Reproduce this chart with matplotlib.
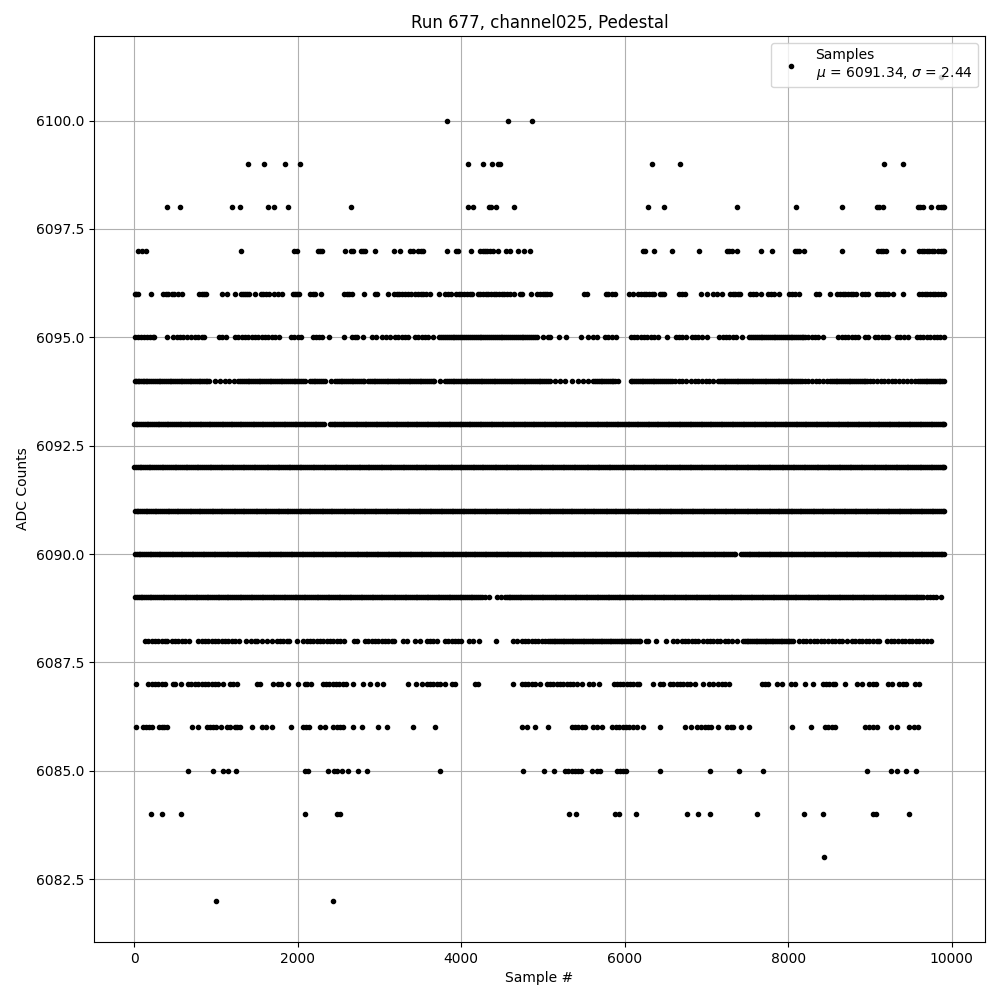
import matplotlib
matplotlib.use("Agg")
import matplotlib.pyplot as plt

s6101 = [9870]
s6100 = [3828, 4574, 4868]
s6099 = [1394, 1590, 1847, 2030, 4085, 4269, 4379, 4444, 4468, 6336, 6678, 9173, 9406]
s6098 = [404, 563, 1199, 1296, 1639, 1712, 1884, 2654, 4085, 4146, 4334, 4358, 4428, 4648,
         6287, 6483, 7375, 8097, 8660, 9080, 9104, 9153, 9589, 9614, 9646, 9744, 9834, 9862, 9891, 9908]
s6097 = [45, 94, 147, 1309, 1953, 1994, 2250, 2271, 2295, 2581, 2650, 2670, 2768, 2801, 2825, 2948,
         3180, 3253, 3372, 3404, 3474, 3502, 3527, 3828, 3934, 3963, 4122, 4228, 4261, 4289, 4318,
         4350, 4383, 4444, 4546, 4595, 4689, 4770, 4843,
         6221, 6246, 6356, 6580, 6911, 7245, 7277, 7310, 7367, 7669, 7803, 8085, 8109, 8134, 8187,
         8660, 9096, 9128, 9161, 9190, 9398, 9597, 9630, 9662, 9691, 9724, 9756, 9785, 9834, 9866, 9895, 9906]
s6096 = [4, 20, 45, 200, 355, 387, 416, 457, 485, 534, 587, 795, 824, 852, 877, 1068, 1137, 1227,
         1301, 1325, 1354, 1382, 1407, 1480, 1545, 1578, 1610, 1643, 1712, 1761, 1802, 1937, 1965,
         1994, 2018, 2149, 2181, 2210, 2287, 2564, 2597, 2630, 2666, 2813, 2944, 2972, 3107, 3176,
         3209, 3241, 3274, 3311, 3343, 3380, 3433, 3465, 3502, 3535, 3567, 3616, 3722, 3800, 3832,
         3869, 3934, 3967, 4000, 4032, 4065, 4106, 4130, 4199, 4232, 4265, 4297, 4330, 4362, 4395,
         4428, 4460, 4493, 4525, 4558, 4595, 4644, 4717, 4737, 4852, 4921, 4962, 4994, 5023, 5051,
         5084, 5504, 5541, 5765, 5797, 5838, 5883, 6054, 6095, 6164, 6197, 6230, 6262, 6295, 6327,
         6360, 6429, 6458, 6483, 6666, 6698, 6731, 6935, 7008, 7082, 7122, 7192, 7286, 7318, 7351,
         7384, 7412, 7534, 7571, 7604, 7669, 7754, 7787, 7824, 7885, 8011, 8044, 8081, 8134, 8337,
         8378, 8513, 8598, 8631, 8664, 8696, 8729, 8762, 8794, 8823, 8904, 8937, 8969, 9088, 9120,
         9153, 9186, 9218, 9283, 9398, 9601, 9634, 9667, 9699, 9732, 9764, 9797, 9830, 9862, 9899]
s6095 = [8, 41, 77, 114, 151, 188, 224, 245, 395, 477, 518, 559, 599, 640, 689, 742, 783, 824, 856,
         1040, 1068, 1121, 1231, 1272, 1313, 1354, 1394, 1435, 1476, 1517, 1557, 1598, 1639, 1680,
         1720, 1773, 1912, 1953, 2006, 2034, 2181, 2222, 2263, 2291, 2385, 2568, 2658, 2699, 2727,
         2801, 2911, 2956, 3025, 3074, 3127, 3188, 3229, 3270, 3311, 3351, 3433, 3474, 3514, 3555,
         3596, 3649, 3730, 3754, 3778, 3800, 3821, 3846, 3870, 3893, 3916, 3940, 3964, 3987, 4011, 4035,
         4058, 4081, 4104, 4129, 4153, 4176, 4199, 4223, 4247, 4270, 4292, 4316, 4340, 4363, 4387, 4410,
         4433, 4457, 4481, 4503, 4526, 4550, 4574, 4597, 4620, 4644, 4667, 4690, 4714, 4737, 4760, 4784,
         4808, 4830, 4853, 4877, 4901, 4921, 4994,
         5064, 5084, 5194, 5276, 5459, 5553, 5614, 5663, 5757, 5797, 5838, 5891, 6071, 6112, 6152,
         6193, 6234, 6275, 6316, 6356, 6405, 6519, 6621, 6662, 6703, 6743, 6817, 6857, 6898, 6939,
         7000, 7155, 7196, 7237, 7278, 7318, 7359, 7428, 7522, 7545, 7568, 7590, 7611, 7636, 7660, 7682,
         7704, 7728, 7752, 7775, 7797, 7820, 7843, 7866, 7889, 7912, 7935, 7957, 7979, 8003, 8027, 8049,
         8071, 8094, 8117, 8140, 8163, 8183, 8203, 8244, 8284, 8325, 8366, 8427, 8610,
         8651, 8692, 8733, 8774, 8814, 8855, 8937, 8977, 9059, 9100, 9141, 9182, 9222, 9324, 9365,
         9414, 9467, 9569, 9610, 9650, 9695, 9735, 9780, 9820, 9860, 9905]
s6094 = [4, 40, 80, 120, 160, 200, 232, 275, 320, 365, 408, 452, 498, 542, 588, 632, 676, 720, 765,
         808, 852, 895, 917, 987, 1048, 1109, 1162, 1223, 1272, 1318, 1362, 1408, 1452, 1498, 1542,
         1587, 1633, 1678, 1722, 1768, 1812, 1858, 1902, 1948, 1992, 2037, 2082, 2149, 2195, 2238,
         2285, 2332, 2401, 2454, 2500, 2545, 2591, 2635, 2680, 2725, 2770, 2815, 2862, 2905, 2950,
         2995, 3040, 3085, 3130, 3175, 3220, 3265, 3310, 3355, 3400, 3445, 3490, 3535, 3580, 3625,
         3670, 3738, 3800, 3846, 3893, 3937, 3984, 4028, 4075, 4121, 4166, 4213, 4258, 4304, 4350,
         4395, 4442, 4487, 4533, 4580, 4624, 4671, 4716, 4762, 4809, 4853, 4900, 4946, 4991, 5038,
         5084, 5145, 5206, 5267, 5349, 5431, 5492, 5553, 5614, 5660, 5705, 5750, 5795, 5840, 5880,
         5920, 6071, 6115, 6160, 6205, 6250, 6295, 6340, 6385, 6430, 6475, 6525, 6572, 6613, 6658,
         6705, 6750, 6804, 6857, 6900, 6945, 6990, 7035, 7080, 7143, 7163, 7208, 7254, 7299, 7345,
         7390, 7436, 7481, 7527, 7572, 7618, 7663, 7709, 7754, 7800, 7845, 7891, 7936, 7982, 8027,
         8073, 8118, 8164, 8203, 8244, 8290, 8335, 8380, 8425, 8468, 8510, 8556, 8601, 8647, 8692,
         8738, 8783, 8829, 8874, 8920, 8965, 8998, 9040, 9085, 9130, 9175, 9222, 9263, 9308, 9350,
         9400, 9450, 9500, 9548, 9589, 9635, 9680, 9725, 9770, 9815, 9860, 9905]
s6094b = [22, 62, 101, 142, 181, 254, 297, 343, 386, 431, 476, 520, 566, 611, 655, 699, 744, 787, 831,
          874, 1294, 1341, 1386, 1431, 1476, 1520, 1565, 1611, 1656, 1700, 1745, 1791, 1836, 1880, 1926,
          1970, 2015, 2060, 2172, 2216, 2262, 2309, 2478, 2523, 2568, 2613, 2658, 2703, 2748, 2793, 2884,
          2928, 2973, 3018, 3063, 3108, 3153, 3198, 3243, 3288, 3333, 3378, 3423, 3468, 3513, 3558, 3603,
          3648, 3823, 3870, 3915, 3960, 4006, 4052, 4098, 4143, 4190, 4236, 4281, 4327, 4372, 4418, 4465,
          4510, 4556, 4602, 4648, 4694, 4739, 4785, 4831, 4877, 4923, 4968, 5015, 5061, 5637, 5682, 5727,
          5772, 5817, 5860, 6093, 6138, 6182, 6228, 6273, 6318, 6363, 6408, 6452, 6500, 6548, 7185, 7231,
          7276, 7322, 7368, 7413, 7458, 7504, 7550, 7595, 7640, 7686, 7732, 7777, 7822, 7868, 7914, 7959,
          8005, 8050, 8096, 8141, 8533, 8578, 8624, 8670, 8715, 8760, 8806, 8852, 8897, 8942, 9612, 9657,
          9702, 9748, 9792, 9838, 9882]
s6093 = [0, 38, 84, 129, 171, 218, 262, 305, 352, 396, 441, 487, 530, 576, 620, 663, 709, 754, 798,
         843, 889, 932, 978, 1021, 1067, 1112, 1155, 1201, 1246, 1288, 1335, 1380, 1423, 1469, 1514,
         1557, 1603, 1648, 1692, 1737, 1783, 1826, 1872, 1917, 1960, 2006, 2051, 2094, 2140, 2185,
         2228, 2274, 2316, 2392, 2437, 2482, 2526, 2571, 2617, 2660, 2706, 2751, 2794, 2840, 2885,
         2928, 2974, 3019, 3062, 3108, 3153, 3196, 3242, 3287, 3330, 3376, 3421, 3464, 3510, 3555,
         3598, 3644, 3689, 3732, 3778, 3823, 3866, 3912, 3957, 4000, 4046, 4091, 4134, 4180, 4225,
         4268, 4314, 4359, 4402, 4448, 4493, 4536, 4582, 4627, 4670, 4716, 4761, 4804, 4850, 4895,
         4938, 4984, 5029, 5072, 5118, 5163, 5206, 5252, 5297, 5340, 5386, 5431, 5474, 5520, 5565,
         5608, 5654, 5699, 5742, 5788, 5833, 5876, 5922, 5967, 6010, 6056, 6101, 6144, 6190, 6235,
         6278, 6324, 6369, 6412, 6458, 6503, 6546, 6592, 6637, 6680, 6726, 6771, 6814, 6860, 6905,
         6948, 6994, 7039, 7082, 7128, 7173, 7216, 7262, 7307, 7350, 7396, 7441, 7484, 7530, 7575,
         7618, 7664, 7709, 7752, 7798, 7843, 7886, 7932, 7977, 8020, 8066, 8111, 8154, 8200, 8245,
         8288, 8334, 8379, 8422, 8468, 8513, 8556, 8602, 8647, 8690, 8736, 8781, 8824, 8870, 8915,
         8958, 9004, 9049, 9092, 9138, 9183, 9226, 9272, 9317, 9360, 9406, 9451, 9494, 9540, 9585,
         9628, 9674, 9719, 9762, 9808, 9853, 9896, 9908]
s6093b = [19, 61, 106, 150, 195, 240, 284, 328, 374, 418, 464, 508, 553, 598, 642, 686, 731, 776, 820,
          866, 910, 955, 1000, 1044, 1089, 1133, 1178, 1223, 1267, 1311, 1357, 1401, 1446, 1491, 1535,
          1580, 1625, 1670, 1714, 1760, 1804, 1849, 1894, 1938, 1983, 2028, 2072, 2117, 2162, 2206,
          2251, 2295, 2414, 2459, 2504, 2548, 2594, 2638, 2683, 2728, 2772, 2817, 2862, 2906, 2951,
          2996, 3040, 3085, 3130, 3174, 3219, 3264, 3308, 3353, 3398, 3442, 3487, 3532, 3576, 3621,
          3666, 3710, 3755, 3800, 3844, 3889, 3934, 3978, 4023, 4068, 4112, 4157, 4202, 4246, 4291,
          4336, 4380, 4425, 4470, 4514, 4559, 4604, 4648, 4693, 4738, 4782, 4827, 4872, 4916, 4961,
          5006, 5050, 5095, 5140, 5184, 5229, 5274, 5318, 5363, 5408, 5452, 5497, 5542, 5586, 5631,
          5676, 5720, 5765, 5810, 5854, 5899, 5944, 5988, 6033, 6078, 6122, 6167, 6212, 6256, 6301,
          6346, 6390, 6435, 6480, 6524, 6569, 6614, 6658, 6703, 6748, 6792, 6837, 6882, 6926, 6971,
          7016, 7060, 7105, 7150, 7194, 7239, 7284, 7328, 7373, 7418, 7462, 7507, 7552, 7596, 7641,
          7686, 7730, 7775, 7820, 7864, 7909, 7954, 7998, 8043, 8088, 8132, 8177, 8222, 8266, 8311,
          8356, 8400, 8445, 8490, 8534, 8579, 8624, 8668, 8713, 8758, 8802, 8847, 8892, 8936, 8981,
          9026, 9070, 9115, 9160, 9204, 9249, 9294, 9338, 9383, 9428, 9472, 9517, 9562, 9606, 9651,
          9696, 9740, 9785, 9830, 9875]
s6092 = [0, 44, 86, 133, 176, 221, 268, 311, 357, 402, 446, 493, 537, 582, 627, 671, 718, 762, 807,
         852, 896, 943, 987, 1032, 1077, 1121, 1168, 1212, 1257, 1302, 1346, 1393, 1437, 1482, 1527,
         1571, 1618, 1662, 1707, 1752, 1796, 1843, 1887, 1932, 1977, 2021, 2068, 2112, 2157, 2202,
         2246, 2293, 2337, 2382, 2427, 2471, 2518, 2562, 2607, 2652, 2696, 2743, 2787, 2832, 2877,
         2921, 2968, 3012, 3057, 3102, 3146, 3193, 3237, 3282, 3327, 3371, 3418, 3462, 3507, 3552,
         3596, 3643, 3687, 3732, 3777, 3821, 3868, 3912, 3957, 4002, 4046, 4093, 4137, 4182, 4227,
         4271, 4318, 4362, 4407, 4452, 4496, 4543, 4587, 4632, 4677, 4721, 4768, 4812, 4857, 4902,
         4946, 4993, 5037, 5082, 5127, 5171, 5218, 5262, 5307, 5352, 5396, 5443, 5487, 5532, 5577,
         5621, 5668, 5712, 5757, 5802, 5846, 5893, 5937, 5982, 6027, 6071, 6118, 6162, 6207, 6252,
         6296, 6343, 6387, 6432, 6477, 6521, 6568, 6612, 6657, 6702, 6746, 6793, 6837, 6882, 6927,
         6971, 7018, 7062, 7107, 7152, 7196, 7243, 7287, 7332, 7377, 7421, 7468, 7512, 7557, 7602,
         7646, 7693, 7737, 7782, 7827, 7871, 7918, 7962, 8007, 8052, 8096, 8143, 8187, 8232, 8277,
         8321, 8368, 8412, 8457, 8502, 8546, 8593, 8637, 8682, 8727, 8771, 8818, 8862, 8907, 8952,
         8996, 9043, 9087, 9132, 9177, 9221, 9268, 9312, 9357, 9402, 9446, 9493, 9537, 9582, 9627,
         9671, 9718, 9762, 9807, 9852, 9896, 9908]
s6092b = [23, 65, 109, 155, 198, 245, 290, 334, 380, 424, 470, 515, 559, 605, 649, 695, 740, 785, 830,
          874, 920, 965, 1010, 1055, 1099, 1145, 1190, 1235, 1280, 1324, 1370, 1415, 1460, 1505, 1549,
          1595, 1640, 1685, 1730, 1774, 1820, 1865, 1910, 1955, 1999, 2045, 2090, 2135, 2180, 2224,
          2270, 2315, 2360, 2405, 2449, 2495, 2540, 2585, 2630, 2674, 2720, 2765, 2810, 2855, 2899,
          2945, 2990, 3035, 3080, 3124, 3170, 3215, 3260, 3305, 3349, 3395, 3440, 3485, 3530, 3574,
          3620, 3665, 3710, 3755, 3799, 3845, 3890, 3935, 3980, 4024, 4070, 4115, 4160, 4205, 4249,
          4295, 4340, 4385, 4430, 4474, 4520, 4565, 4610, 4655, 4699, 4745, 4790, 4835, 4880, 4924,
          4970, 5015, 5060, 5105, 5149, 5195, 5240, 5285, 5330, 5374, 5420, 5465, 5510, 5555, 5599,
          5645, 5690, 5735, 5780, 5824, 5870, 5915, 5960, 6005, 6049, 6095, 6140, 6185, 6230, 6274,
          6320, 6365, 6410, 6455, 6499, 6545, 6590, 6635, 6680, 6724, 6770, 6815, 6860, 6905, 6949,
          6995, 7040, 7085, 7130, 7174, 7220, 7265, 7310, 7355, 7399, 7445, 7490, 7535, 7580, 7624,
          7670, 7715, 7760, 7805, 7849, 7895, 7940, 7985, 8030, 8074, 8120, 8165, 8210, 8255, 8299,
          8345, 8390, 8435, 8480, 8524, 8570, 8615, 8660, 8705, 8749, 8795, 8840, 8885, 8930, 8974,
          9020, 9065, 9110, 9155, 9199, 9245, 9290, 9335, 9380, 9424, 9470, 9515, 9560, 9605, 9649,
          9695, 9740, 9785, 9830, 9874]
s6091 = [6, 47, 91, 138, 182, 226, 271, 316, 360, 407, 451, 495, 540, 585, 629, 676, 720, 764, 809,
         854, 898, 945, 989, 1033, 1078, 1123, 1167, 1214, 1258, 1302, 1347, 1392, 1436, 1483, 1527,
         1571, 1616, 1661, 1705, 1752, 1796, 1840, 1885, 1930, 1974, 2021, 2065, 2109, 2154, 2199,
         2243, 2290, 2334, 2378, 2423, 2468, 2512, 2559, 2603, 2647, 2692, 2737, 2781, 2828, 2872,
         2916, 2961, 3006, 3050, 3097, 3141, 3185, 3230, 3275, 3319, 3366, 3410, 3454, 3499, 3544,
         3588, 3635, 3679, 3723, 3768, 3813, 3857, 3904, 3948, 3992, 4037, 4082, 4126, 4173, 4217,
         4261, 4306, 4351, 4395, 4442, 4486, 4530, 4575, 4620, 4664, 4711, 4755, 4799, 4844, 4889,
         4933, 4980, 5024, 5068, 5113, 5158, 5202, 5249, 5293, 5337, 5382, 5427, 5471, 5518, 5562,
         5606, 5651, 5696, 5740, 5787, 5831, 5875, 5920, 5965, 6009, 6056, 6100, 6144, 6189, 6234,
         6278, 6325, 6369, 6413, 6458, 6503, 6547, 6594, 6638, 6682, 6727, 6772, 6816, 6863, 6907,
         6951, 6996, 7041, 7085, 7132, 7176, 7220, 7265, 7310, 7354, 7401, 7445, 7489, 7534, 7579,
         7623, 7670, 7714, 7758, 7803, 7848, 7892, 7939, 7983, 8027, 8072, 8117, 8161, 8208, 8252,
         8296, 8341, 8386, 8430, 8477, 8521, 8565, 8610, 8655, 8699, 8746, 8790, 8834, 8879, 8924,
         8968, 9015, 9059, 9103, 9148, 9193, 9237, 9284, 9328, 9372, 9417, 9462, 9506, 9553, 9597,
         9641, 9686, 9731, 9775, 9822, 9866, 9908]
s6091b = [27, 69, 114, 160, 204, 249, 294, 338, 384, 429, 473, 518, 563, 607, 653, 698, 742, 787, 832,
          876, 922, 967, 1011, 1056, 1101, 1145, 1191, 1236, 1280, 1325, 1370, 1414, 1460, 1505, 1549,
          1594, 1639, 1683, 1729, 1774, 1818, 1863, 1908, 1952, 1998, 2043, 2087, 2132, 2177, 2221,
          2267, 2312, 2356, 2401, 2446, 2490, 2536, 2581, 2625, 2670, 2715, 2759, 2805, 2850, 2894,
          2939, 2984, 3028, 3074, 3119, 3163, 3208, 3253, 3297, 3343, 3388, 3432, 3477, 3522, 3566,
          3612, 3657, 3701, 3746, 3791, 3835, 3881, 3926, 3970, 4015, 4060, 4104, 4150, 4195, 4239,
          4284, 4329, 4373, 4419, 4464, 4508, 4553, 4598, 4642, 4688, 4733, 4777, 4822, 4867, 4911,
          4957, 5002, 5046, 5091, 5136, 5180, 5226, 5271, 5315, 5360, 5405, 5449, 5495, 5540, 5584,
          5629, 5674, 5718, 5764, 5809, 5853, 5898, 5943, 5987, 6033, 6078, 6122, 6167, 6212, 6256,
          6302, 6347, 6391, 6436, 6481, 6525, 6571, 6616, 6660, 6705, 6750, 6794, 6840, 6885, 6929,
          6974, 7019, 7063, 7109, 7154, 7198, 7243, 7288, 7332, 7378, 7423, 7467, 7512, 7557, 7601,
          7647, 7692, 7736, 7781, 7826, 7870, 7916, 7961, 8005, 8050, 8095, 8139, 8185, 8230, 8274,
          8319, 8364, 8408, 8454, 8499, 8543, 8588, 8633, 8677, 8723, 8768, 8812, 8857, 8902, 8946,
          8992, 9037, 9081, 9126, 9171, 9215, 9261, 9306, 9350, 9395, 9440, 9484, 9530, 9575, 9619,
          9664, 9709, 9753, 9799, 9844, 9888]
s6090 = [11, 52, 97, 141, 186, 232, 275, 320, 365, 410, 456, 499, 544, 589, 634, 680, 723, 768,
         813, 858, 904, 947, 992, 1037, 1082, 1128, 1171, 1216, 1261, 1306, 1352, 1395, 1440, 1485,
         1530, 1576, 1619, 1664, 1709, 1754, 1800, 1843, 1888, 1933, 1978, 2024, 2067, 2112, 2157,
         2202, 2248, 2291, 2336, 2381, 2426, 2472, 2515, 2560, 2605, 2650, 2696, 2739, 2784, 2829,
         2874, 2920, 2963, 3008, 3053, 3098, 3144, 3187, 3232, 3277, 3322, 3368, 3411, 3456, 3501,
         3546, 3592, 3635, 3680, 3725, 3770, 3816, 3859, 3904, 3949, 3994, 4040, 4083, 4128, 4173,
         4218, 4264, 4307, 4352, 4397, 4442, 4488, 4531, 4576, 4621, 4666, 4712, 4755, 4800, 4845,
         4890, 4936, 4979, 5024, 5069, 5114, 5160, 5203, 5248, 5293, 5338, 5384, 5427, 5472, 5517,
         5562, 5608, 5651, 5696, 5741, 5786, 5832, 5875, 5920, 5965, 6010, 6056, 6099, 6144, 6189,
         6234, 6280, 6323, 6368, 6413, 6458, 6504, 6547, 6592, 6637, 6682, 6728, 6771, 6816, 6861,
         6906, 6952, 6995, 7040, 7085, 7130, 7176, 7219, 7264, 7309, 7352, 7424, 7468, 7514, 7557,
         7602, 7647, 7692, 7738, 7781, 7826, 7871, 7916, 7962, 8005, 8050, 8095, 8140, 8186, 8229,
         8274, 8319, 8364, 8410, 8453, 8498, 8543, 8588, 8634, 8677, 8722, 8767, 8812, 8858, 8901,
         8946, 8991, 9036, 9082, 9125, 9170, 9215, 9260, 9306, 9349, 9394, 9439, 9484, 9530, 9573,
         9618, 9663, 9708, 9754, 9797, 9842, 9904]
s6090b = [31, 74, 119, 163, 209, 253, 298, 342, 388, 433, 477, 522, 567, 611, 657, 702, 746, 791, 836,
          881, 926, 970, 1015, 1060, 1105, 1150, 1194, 1239, 1284, 1329, 1374, 1418, 1463, 1508, 1553,
          1598, 1642, 1687, 1732, 1777, 1822, 1866, 1911, 1956, 2001, 2046, 2090, 2135, 2180, 2225,
          2270, 2314, 2359, 2404, 2449, 2494, 2538, 2583, 2628, 2673, 2718, 2762, 2807, 2852, 2897,
          2942, 2986, 3031, 3076, 3121, 3166, 3210, 3255, 3300, 3345, 3390, 3434, 3479, 3524, 3569,
          3614, 3658, 3703, 3748, 3793, 3838, 3882, 3927, 3972, 4017, 4062, 4106, 4151, 4196, 4241,
          4286, 4330, 4375, 4420, 4465, 4510, 4554, 4599, 4644, 4689, 4734, 4778, 4823, 4868, 4913,
          4958, 5002, 5047, 5092, 5137, 5182, 5226, 5271, 5316, 5361, 5406, 5450, 5495, 5540, 5585,
          5630, 5674, 5719, 5764, 5809, 5854, 5898, 5943, 5988, 6033, 6078, 6122, 6167, 6212, 6257,
          6302, 6346, 6391, 6436, 6481, 6526, 6570, 6615, 6660, 6705, 6750, 6794, 6839, 6884, 6929,
          6974, 7018, 7063, 7108, 7153, 7198, 7242, 7287, 7332, 7446, 7491, 7536, 7580, 7625, 7670,
          7715, 7760, 7804, 7849, 7894, 7939, 7984, 8028, 8073, 8118, 8163, 8208, 8252, 8297, 8342,
          8387, 8432, 8476, 8521, 8566, 8611, 8656, 8700, 8745, 8790, 8835, 8880, 8924, 8969, 9014,
          9059, 9104, 9148, 9193, 9238, 9283, 9328, 9372, 9417, 9462, 9507, 9552, 9596, 9641, 9686,
          9731, 9776, 9820, 9864, 9886]
s6089 = [8, 53, 98, 144, 187, 232, 279, 323, 367, 412, 458, 501, 546, 593, 637, 681, 726, 772, 815,
         860, 907, 951, 995, 1040, 1086, 1129, 1174, 1221, 1265, 1309, 1354, 1400, 1443, 1488, 1535,
         1579, 1623, 1668, 1714, 1757, 1802, 1849, 1893, 1937, 1982, 2028, 2071, 2116, 2163, 2207,
         2251, 2296, 2342, 2385, 2430, 2477, 2521, 2565, 2610, 2656, 2699, 2744, 2791, 2835, 2879,
         2924, 2970, 3013, 3058, 3105, 3149, 3193, 3238, 3284, 3327, 3372, 3419, 3463, 3507, 3552,
         3598, 3641, 3686, 3733, 3777, 3821, 3866, 3912, 3955, 4000, 4047, 4091, 4135, 4180, 4226,
         4248, 4289, 4338, 4432, 4481, 4534, 4578, 4623, 4669, 4712, 4757, 4804, 4848, 4892, 4937,
         4983, 5026, 5071, 5118, 5162, 5206, 5251, 5297, 5340, 5385, 5432, 5476, 5520, 5565, 5611,
         5654, 5699, 5746, 5790, 5834, 5879, 5925, 5968, 6013, 6060, 6104, 6148, 6193, 6239, 6282,
         6327, 6374, 6418, 6462, 6507, 6553, 6596, 6641, 6688, 6732, 6776, 6821, 6867, 6910, 6955,
         7002, 7046, 7090, 7135, 7181, 7224, 7269, 7316, 7360, 7404, 7449, 7495, 7538, 7583, 7630,
         7674, 7718, 7763, 7809, 7852, 7897, 7944, 7988, 8032, 8077, 8123, 8166, 8211, 8258, 8302,
         8346, 8391, 8437, 8480, 8525, 8572, 8616, 8660, 8705, 8751, 8794, 8839, 8886, 8930, 8974,
         9019, 9065, 9108, 9153, 9200, 9244, 9288, 9333, 9379, 9422, 9467, 9514, 9558, 9602, 9651,
         9691, 9732, 9772, 9811, 9866]
s6089b = [30, 76, 121, 166, 210, 255, 301, 345, 390, 435, 480, 524, 570, 615, 659, 704, 749, 794, 838,
          884, 929, 973, 1018, 1063, 1108, 1152, 1198, 1243, 1287, 1332, 1377, 1422, 1466, 1512, 1557,
          1601, 1646, 1691, 1736, 1780, 1826, 1871, 1915, 1960, 2005, 2050, 2094, 2140, 2185, 2229,
          2274, 2319, 2364, 2408, 2454, 2499, 2543, 2588, 2633, 2678, 2722, 2768, 2813, 2857, 2902,
          2947, 2992, 3036, 3082, 3127, 3171, 3216, 3261, 3306, 3350, 3396, 3441, 3485, 3530, 3575,
          3620, 3664, 3710, 3755, 3799, 3844, 3889, 3934, 3978, 4024, 4069, 4113, 4158, 4203, 4556,
          4601, 4646, 4691, 4735, 4781, 4826, 4870, 4915, 4960, 5005, 5049, 5095, 5140, 5184, 5229,
          5274, 5319, 5363, 5409, 5454, 5498, 5543, 5588, 5633, 5677, 5723, 5768, 5812, 5857, 5902,
          5947, 5991, 6037, 6082, 6126, 6171, 6216, 6261, 6305, 6351, 6396, 6440, 6485, 6530, 6575,
          6619, 6665, 6710, 6754, 6799, 6844, 6889, 6933, 6979, 7024, 7068, 7113, 7158, 7203, 7247,
          7293, 7338, 7382, 7427, 7472, 7517, 7561, 7607, 7652, 7696, 7741, 7786, 7831, 7875, 7921,
          7966, 8010, 8055, 8100, 8145, 8189, 8235, 8280, 8324, 8369, 8414, 8459, 8503, 8549, 8594,
          8638, 8683, 8728, 8773, 8817, 8863, 8908, 8952, 8997, 9042, 9087, 9131, 9177, 9222, 9266,
          9311, 9356, 9401, 9445, 9491, 9536, 9580, 9626]
s6088 = [130, 171, 212, 253, 294, 334, 375, 404, 457, 497, 538, 579, 620, 673, 783, 824, 864, 905,
         946, 987, 1027, 1068, 1109, 1150, 1190, 1231, 1284, 1366, 1423, 1476, 1504, 1557, 1619,
         1688, 1741, 1782, 1822, 1863, 1896, 1994, 2067, 2108, 2149, 2189, 2230, 2271, 2312, 2352,
         2393, 2434, 2475, 2516, 2564, 2691, 2727, 2821, 2862, 2903, 2944, 2984, 3025, 3066, 3107,
         3147, 3176, 3290, 3339, 3433, 3494, 3575, 3616, 3657, 3706, 3800, 3841, 3881, 3922, 3963,
         3996, 4093, 4146, 4220, 4428, 4627, 4676, 4737, 4778, 4819, 4860, 4900, 4941, 4982, 5023,
         5064, 5086, 5108, 5130, 5151, 5173, 5196, 5218, 5240, 5262, 5283, 5306, 5329, 5350, 5372, 5394,
         5417, 5438, 5460, 5483, 5506, 5527, 5549, 5571, 5593, 5615, 5638, 5660, 5682, 5704, 5727, 5748,
         5770, 5792, 5815, 5837, 5859, 5881, 5903, 5925, 5948, 5970, 5992, 6013, 6035, 6058, 6081, 6102,
         6124, 6146, 6168, 6182, 6254, 6287, 6385,
         6507, 6593, 6633, 6694, 6735, 6776, 6817, 6857, 6898, 6959, 7000, 7041, 7082, 7122, 7163,
         7224, 7265, 7306, 7367, 7449, 7470, 7490, 7512, 7534, 7555, 7577, 7599, 7621, 7642, 7664, 7687,
         7709, 7730, 7752, 7774, 7796, 7818, 7839, 7862, 7884, 7905, 7927, 7949, 7971, 7992, 8014, 8037,
         8060, 8134, 8178, 8221, 8265, 8309, 8354, 8398, 8441, 8485, 8529, 8573,
         8617, 8660, 8712, 8773, 8817, 8861, 8904, 8948, 8992, 9036, 9080, 9112, 9210, 9254, 9297,
         9341, 9385, 9429, 9473, 9516, 9560, 9604, 9648, 9692, 9740]
s6087 = [16, 171, 212, 253, 294, 334, 375, 469, 497, 571, 660, 689, 742, 783, 824, 864, 905, 946,
         987, 1027, 1080, 1170, 1211, 1252, 1504, 1537, 1692, 1761, 1794, 1875, 1998, 2087, 2116,
         2157, 2303, 2344, 2385, 2426, 2466, 2507, 2548, 2589, 2670, 2793, 2878, 2972, 3037, 3347,
         3445, 3522, 3575, 3616, 3657, 3698, 3738, 3796, 3881, 3922, 4167, 4208, 4636, 4737, 4778,
         4819, 4860, 4900, 4962, 5043, 5084, 5124, 5165, 5206, 5247, 5288, 5329, 5369, 5418, 5471,
         5565, 5614, 5688, 5867, 5899, 5940, 5981, 6022, 6063, 6104, 6144, 6177, 6348, 6430, 6470,
         6552, 6593, 6633, 6674, 6715, 6756, 6796, 6857, 6959, 7029, 7082, 7135, 7184, 7229, 7273,
         7673, 7714, 7755, 7865, 7918, 8028, 8081, 8203, 8305, 8419, 8460, 8501, 8541, 8574, 8688,
         8835, 8896, 8990, 9031, 9072, 9222, 9263, 9349, 9406, 9438, 9548, 9601]
s6086 = [24, 110, 143, 175, 212, 302, 334, 367, 404, 709, 783, 893, 925, 958, 999, 1060, 1129, 1170,
         1231, 1260, 1292, 1443, 1566, 1606, 1680, 1912, 2067, 2100, 2140, 2271, 2332, 2434, 2475,
         2516, 2556, 2670, 2781, 2984, 3094, 3412, 3682, 4746, 4799, 4905, 5060, 5349, 5390, 5431,
         5471, 5512, 5614, 5654, 5724, 5846, 5891, 5932, 5973, 6014, 6055, 6096, 6144, 6226, 6430,
         6739, 6805, 6886, 6927, 6980, 7020, 7053, 7143, 7245, 7294, 7318, 7424, 7522, 8048, 8280,
         8448, 8488, 8529, 8570, 8937, 8990, 9039, 9088, 9255, 9324, 9479, 9536, 9589]
s6085 = [660, 958, 1080, 1150, 1248, 2087, 2128, 2373, 2442, 2475, 2536, 2617, 2740, 2850, 3743,
         4758, 5015, 5133, 5267, 5308, 5349, 5390, 5431, 5459, 5602, 5655, 5696, 5906, 5939, 5980,
         6012, 6434, 7045, 7400, 7693, 8966, 9255, 9324, 9442, 9556]
s6084 = [208, 342, 575, 2092, 2475, 2516, 5320, 5398, 5879, 5924, 6140, 6764, 6898, 7045, 7620, 8194,
         8427, 9040, 9072, 9479]
s6083 = [8439]
s6082 = [1003, 2434]

levels = [6101, 6100, 6099, 6098, 6097, 6096, 6095, 6094, 6094, 6093, 6093, 6092, 6092, 6091, 6091,
          6090, 6090, 6089, 6089, 6088, 6087, 6086, 6085, 6084, 6083, 6082]
samples = [s6101, s6100, s6099, s6098, s6097, s6096, s6095, s6094, s6094b, s6093, s6093b, s6092,
           s6092b, s6091, s6091b, s6090, s6090b, s6089, s6089b, s6088, s6087, s6086, s6085, s6084,
           s6083, s6082]

x = [v for lev, xs in zip(levels, samples) for v in xs]
y = [lev for lev, xs in zip(levels, samples) for v in xs]

fig, ax = plt.subplots(figsize=(10, 10), dpi=100)
ax.plot(x, y, 'k.', label='Samples\n$\\mu$ = 6091.34, $\\sigma$ = 2.44')
ax.set_title('Run 677, channel025, Pedestal')
ax.set_xlabel('Sample #')
ax.set_ylabel('ADC Counts')
ax.set_xlim(-493, 10406)
ax.set_ylim(6081.05, 6101.95)
ax.grid(True)
ax.legend(loc='upper right')
fig.subplots_adjust(left=0.094, right=0.985, top=0.964, bottom=0.058)
fig.savefig('out.png', dpi=100)
